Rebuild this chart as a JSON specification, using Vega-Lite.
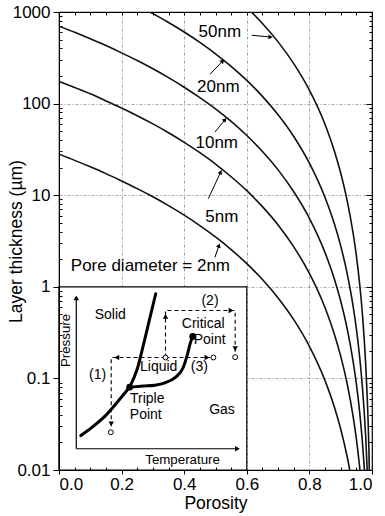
{
  "$schema": "https://vega.github.io/schema/vega-lite/v6.json",
  "width": 313,
  "height": 458,
  "autosize": {"type": "none"},
  "padding": {"left": 59, "top": 12, "right": 13, "bottom": 46},
  "background": "white",
  "config": {
    "view": {"stroke": "black", "strokeWidth": 1.2},
    "font": "Liberation Sans",
    "axis": {"tickColor": "black", "domainColor": "black", "labelColor": "black", "titleColor": "black", "titleFontWeight": "normal", "labelFont": "Liberation Sans", "titleFont": "Liberation Sans"}
  },
  "datasets": {
    "curves": [
      {"pore": "2nm", "p": 0, "t": 28}, {"pore": "2nm", "p": 0.05, "t": 24}, {"pore": "2nm", "p": 0.1, "t": 20.4}, {"pore": "2nm", "p": 0.15, "t": 17.2}, {"pore": "2nm", "p": 0.2, "t": 14.3}, {"pore": "2nm", "p": 0.25, "t": 11.8}, {"pore": "2nm", "p": 0.3, "t": 9.6}, {"pore": "2nm", "p": 0.35, "t": 7.69}, {"pore": "2nm", "p": 0.4, "t": 6.05}, {"pore": "2nm", "p": 0.45, "t": 4.66}, {"pore": "2nm", "p": 0.5, "t": 3.5}, {"pore": "2nm", "p": 0.55, "t": 2.55}, {"pore": "2nm", "p": 0.6, "t": 1.79}, {"pore": "2nm", "p": 0.65, "t": 1.2}, {"pore": "2nm", "p": 0.7, "t": 0.756}, {"pore": "2nm", "p": 0.75, "t": 0.438}, {"pore": "2nm", "p": 0.8, "t": 0.224}, {"pore": "2nm", "p": 0.85, "t": 0.0945}, {"pore": "2nm", "p": 0.88, "t": 0.0484}, {"pore": "2nm", "p": 0.9, "t": 0.028}, {"pore": "2nm", "p": 0.92, "t": 0.0143}, {"pore": "2nm", "p": 0.93, "t": 0.0096}, {"pore": "2nm", "p": 0.94, "t": 0.00605},
      {"pore": "5nm", "p": 0, "t": 175}, {"pore": "5nm", "p": 0.05, "t": 150}, {"pore": "5nm", "p": 0.1, "t": 128}, {"pore": "5nm", "p": 0.15, "t": 107}, {"pore": "5nm", "p": 0.2, "t": 89.6}, {"pore": "5nm", "p": 0.25, "t": 73.8}, {"pore": "5nm", "p": 0.3, "t": 60}, {"pore": "5nm", "p": 0.35, "t": 48.1}, {"pore": "5nm", "p": 0.4, "t": 37.8}, {"pore": "5nm", "p": 0.45, "t": 29.1}, {"pore": "5nm", "p": 0.5, "t": 21.9}, {"pore": "5nm", "p": 0.55, "t": 15.9}, {"pore": "5nm", "p": 0.6, "t": 11.2}, {"pore": "5nm", "p": 0.65, "t": 7.5}, {"pore": "5nm", "p": 0.7, "t": 4.73}, {"pore": "5nm", "p": 0.75, "t": 2.73}, {"pore": "5nm", "p": 0.8, "t": 1.4}, {"pore": "5nm", "p": 0.85, "t": 0.591}, {"pore": "5nm", "p": 0.88, "t": 0.302}, {"pore": "5nm", "p": 0.9, "t": 0.175}, {"pore": "5nm", "p": 0.92, "t": 0.0896}, {"pore": "5nm", "p": 0.94, "t": 0.0378}, {"pore": "5nm", "p": 0.95, "t": 0.0219}, {"pore": "5nm", "p": 0.96, "t": 0.0112}, {"pore": "5nm", "p": 0.97, "t": 0.00473},
      {"pore": "10nm", "p": 0, "t": 700}, {"pore": "10nm", "p": 0.05, "t": 600}, {"pore": "10nm", "p": 0.1, "t": 510}, {"pore": "10nm", "p": 0.15, "t": 430}, {"pore": "10nm", "p": 0.2, "t": 358}, {"pore": "10nm", "p": 0.25, "t": 295}, {"pore": "10nm", "p": 0.3, "t": 240}, {"pore": "10nm", "p": 0.35, "t": 192}, {"pore": "10nm", "p": 0.4, "t": 151}, {"pore": "10nm", "p": 0.45, "t": 116}, {"pore": "10nm", "p": 0.5, "t": 87.5}, {"pore": "10nm", "p": 0.55, "t": 63.8}, {"pore": "10nm", "p": 0.6, "t": 44.8}, {"pore": "10nm", "p": 0.65, "t": 30}, {"pore": "10nm", "p": 0.7, "t": 18.9}, {"pore": "10nm", "p": 0.75, "t": 10.9}, {"pore": "10nm", "p": 0.8, "t": 5.6}, {"pore": "10nm", "p": 0.85, "t": 2.36}, {"pore": "10nm", "p": 0.88, "t": 1.21}, {"pore": "10nm", "p": 0.9, "t": 0.7}, {"pore": "10nm", "p": 0.92, "t": 0.358}, {"pore": "10nm", "p": 0.94, "t": 0.151}, {"pore": "10nm", "p": 0.95, "t": 0.0875}, {"pore": "10nm", "p": 0.96, "t": 0.0448}, {"pore": "10nm", "p": 0.97, "t": 0.0189}, {"pore": "10nm", "p": 0.975, "t": 0.0109}, {"pore": "10nm", "p": 0.98, "t": 0.0056},
      {"pore": "20nm", "p": 0.2, "t": 1434}, {"pore": "20nm", "p": 0.25, "t": 1181}, {"pore": "20nm", "p": 0.3, "t": 960}, {"pore": "20nm", "p": 0.35, "t": 769}, {"pore": "20nm", "p": 0.4, "t": 605}, {"pore": "20nm", "p": 0.45, "t": 466}, {"pore": "20nm", "p": 0.5, "t": 350}, {"pore": "20nm", "p": 0.55, "t": 255}, {"pore": "20nm", "p": 0.6, "t": 179}, {"pore": "20nm", "p": 0.65, "t": 120}, {"pore": "20nm", "p": 0.7, "t": 75.6}, {"pore": "20nm", "p": 0.75, "t": 43.8}, {"pore": "20nm", "p": 0.8, "t": 22.4}, {"pore": "20nm", "p": 0.85, "t": 9.45}, {"pore": "20nm", "p": 0.88, "t": 4.84}, {"pore": "20nm", "p": 0.9, "t": 2.8}, {"pore": "20nm", "p": 0.92, "t": 1.43}, {"pore": "20nm", "p": 0.94, "t": 0.605}, {"pore": "20nm", "p": 0.95, "t": 0.35}, {"pore": "20nm", "p": 0.96, "t": 0.179}, {"pore": "20nm", "p": 0.97, "t": 0.0756}, {"pore": "20nm", "p": 0.975, "t": 0.0438}, {"pore": "20nm", "p": 0.98, "t": 0.0224}, {"pore": "20nm", "p": 0.985, "t": 0.00945},
      {"pore": "50nm", "p": 0.5, "t": 2188}, {"pore": "50nm", "p": 0.55, "t": 1595}, {"pore": "50nm", "p": 0.6, "t": 1120}, {"pore": "50nm", "p": 0.65, "t": 750}, {"pore": "50nm", "p": 0.7, "t": 472}, {"pore": "50nm", "p": 0.75, "t": 273}, {"pore": "50nm", "p": 0.8, "t": 140}, {"pore": "50nm", "p": 0.85, "t": 59.1}, {"pore": "50nm", "p": 0.88, "t": 30.2}, {"pore": "50nm", "p": 0.9, "t": 17.5}, {"pore": "50nm", "p": 0.92, "t": 8.96}, {"pore": "50nm", "p": 0.94, "t": 3.78}, {"pore": "50nm", "p": 0.95, "t": 2.19}, {"pore": "50nm", "p": 0.96, "t": 1.12}, {"pore": "50nm", "p": 0.97, "t": 0.473}, {"pore": "50nm", "p": 0.975, "t": 0.273}, {"pore": "50nm", "p": 0.98, "t": 0.14}, {"pore": "50nm", "p": 0.985, "t": 0.0591}, {"pore": "50nm", "p": 0.99, "t": 0.0175}, {"pore": "50nm", "p": 0.995, "t": 0.0022}
    ],
    "curveLabels": [
      {"text": "50nm", "p": 0.514, "t": 605},
      {"text": "20nm", "p": 0.509, "t": 151},
      {"text": "10nm", "p": 0.504, "t": 36.8},
      {"text": "5nm", "p": 0.52, "t": 5.82},
      {"text": "Pore diameter = 2nm", "p": 0.292, "t": 1.68}
    ],
    "arrows": [
      {"label": "50nm", "p1": 0.616, "t1": 557, "p2": 0.676, "t2": 533},
      {"label": "20nm", "p1": 0.4824, "t1": 209, "p2": 0.523, "t2": 292},
      {"label": "10nm", "p1": 0.4984, "t1": 48.9, "p2": 0.5304, "t2": 66.8},
      {"label": "5nm", "p1": 0.477, "t1": 9.17, "p2": 0.5166, "t2": 17.9},
      {"label": "2nm", "p1": 0.498, "t1": 2.09, "p2": 0.511, "t2": 2.83}
    ],
    "insetBox": [{"u0": 0, "u1": 100, "v0": 0, "v1": 100}],
    "insetAxes": [
      {"axis": "Pressure", "u1": 9.2, "v1": 11.6, "u2": 9.2, "v2": 94.5},
      {"axis": "Temperature", "u1": 9.2, "v1": 11.6, "u2": 95.5, "v2": 11.6}
    ],
    "phaseCurves": [
      {"curve": "sublimation", "i": 0, "u": 11.6, "v": 18.8}, {"curve": "sublimation", "i": 1, "u": 17.7, "v": 23.4}, {"curve": "sublimation", "i": 2, "u": 24.9, "v": 29.8}, {"curve": "sublimation", "i": 3, "u": 31.0, "v": 37.0}, {"curve": "sublimation", "i": 4, "u": 37.6, "v": 45.2},
      {"curve": "fusion", "i": 0, "u": 37.6, "v": 45.2}, {"curve": "fusion", "i": 1, "u": 41.7, "v": 55.3}, {"curve": "fusion", "i": 2, "u": 45.3, "v": 69.8}, {"curve": "fusion", "i": 3, "u": 48.3, "v": 82.6}, {"curve": "fusion", "i": 4, "u": 51.5, "v": 96.2},
      {"curve": "vaporization", "i": 0, "u": 37.6, "v": 45.2}, {"curve": "vaporization", "i": 1, "u": 45.0, "v": 45.8}, {"curve": "vaporization", "i": 2, "u": 51.1, "v": 46.3}, {"curve": "vaporization", "i": 3, "u": 56.4, "v": 47.6}, {"curve": "vaporization", "i": 4, "u": 61.8, "v": 50.4}, {"curve": "vaporization", "i": 5, "u": 66.2, "v": 56.1}, {"curve": "vaporization", "i": 6, "u": 68.5, "v": 63.5}, {"curve": "vaporization", "i": 7, "u": 69.8, "v": 68.9}, {"curve": "vaporization", "i": 8, "u": 71.2, "v": 72.9}
    ],
    "paths": [
      {"path": "1", "i": 0, "u": 56.7, "v": 61.4}, {"path": "1", "i": 1, "u": 27.8, "v": 61.4}, {"path": "1", "i": 2, "u": 27.8, "v": 23.5},
      {"path": "2", "i": 0, "u": 56.7, "v": 61.4}, {"path": "2", "i": 1, "u": 56.7, "v": 87.1}, {"path": "2", "i": 2, "u": 93.8, "v": 87.1}, {"path": "2", "i": 3, "u": 93.8, "v": 64.5},
      {"path": "3", "i": 0, "u": 56.7, "v": 61.4}, {"path": "3", "i": 1, "u": 80.5, "v": 61.4}
    ],
    "heads": [
      {"dir": "up", "u": 9.2, "v": 94.0},
      {"dir": "right", "u": 95.0, "v": 11.6},
      {"dir": "left", "u": 30.8, "v": 61.4},
      {"dir": "down", "u": 27.8, "v": 25.2},
      {"dir": "up", "u": 56.7, "v": 83.8},
      {"dir": "right", "u": 91.6, "v": 87.1},
      {"dir": "down", "u": 93.8, "v": 66.2},
      {"dir": "right", "u": 78.8, "v": 61.4}
    ],
    "states": [
      {"state": "start", "u": 56.7, "v": 61.4},
      {"state": "end 1", "u": 27.6, "v": 20.6},
      {"state": "end 2", "u": 93.8, "v": 61.6},
      {"state": "end 3", "u": 82.2, "v": 61.4}
    ],
    "points": [
      {"name": "Triple Point", "u": 37.6, "v": 45.2},
      {"name": "Critical Point", "u": 71.2, "v": 72.9}
    ],
    "insetLabels": [
      {"text": "Solid", "u": 27.3, "v": 84.8},
      {"text": "Liquid", "u": 53.1, "v": 56.1},
      {"text": "Gas", "u": 86.8, "v": 32.5},
      {"text": "(1)", "u": 20.6, "v": 52.0},
      {"text": "(2)", "u": 80.4, "v": 92.0},
      {"text": "(3)", "u": 74.7, "v": 56.1},
      {"text": "Critical", "u": 76.8, "v": 79.6},
      {"text": "Point", "u": 80.2, "v": 71.2},
      {"text": "Triple", "u": 47.0, "v": 38.6},
      {"text": "Point", "u": 46.2, "v": 30.2}
    ],
    "insetAxisTitles": [
      {"text": "Temperature", "u": 65.8, "v": 5.6}
    ],
    "insetAxisTitlesV": [
      {"text": "Pressure", "u": 3.9, "v": 70.7}
    ]
  },
  "layer": [
    {
      "layer": [
        {
          "data": {"name": "curves"},
          "mark": {"type": "line", "color": "#111", "strokeWidth": 1.6, "clip": true, "interpolate": "monotone"},
          "encoding": {
            "x": {"field": "p", "type": "quantitative", "scale": {"domain": [0, 1], "nice": false, "zero": false},
              "axis": {"orient": "bottom", "values": [0, 0.2, 0.4, 0.6, 0.8, 1], "format": ".1f", "tickSize": 4, "grid": false, "labelFontSize": 17, "labelPadding": 2, "title": "Porosity", "titleFontSize": 17.5, "titleX": 156.5, "titleY": 38, "titleBaseline": "alphabetic", "titleAlign": "center", "zindex": 1}},
            "y": {"field": "t", "type": "quantitative", "scale": {"type": "log", "domain": [0.01, 1000], "nice": false},
              "axis": {"orient": "left", "values": [0.01, 0.1, 1, 10, 100, 1000], "format": "~g", "tickSize": 6, "grid": false, "labelFontSize": 17, "labelPadding": 3, "title": "Layer thickness (µm)", "titleFontSize": 17.5, "titleX": -38, "titleY": 229, "titleAngle": 270, "titleAlign": "center", "titleBaseline": "alphabetic", "zindex": 1}},
            "detail": {"field": "pore", "type": "nominal"}
          }
        },
        {
          "data": {"name": "curveLabels"},
          "mark": {"type": "text", "fontSize": 17, "color": "black", "align": "center", "baseline": "middle"},
          "encoding": {
            "x": {"field": "p", "type": "quantitative",
              "axis": {"orient": "top", "values": [0, 0.05, 0.1, 0.15, 0.2, 0.25, 0.3, 0.35, 0.4, 0.45, 0.5, 0.55, 0.6, 0.65, 0.7, 0.75, 0.8, 0.85, 0.9, 0.95, 1], "tickSize": -3, "labels": false, "domain": false, "grid": false, "title": null, "zindex": 1}},
            "y": {"field": "t", "type": "quantitative",
              "axis": {"orient": "right", "values": [0.02, 0.03, 0.04, 0.05, 0.06, 0.07, 0.08, 0.09, 0.2, 0.3, 0.4, 0.5, 0.6, 0.7, 0.8, 0.9, 2, 3, 4, 5, 6, 7, 8, 9, 20, 30, 40, 50, 60, 70, 80, 90, 200, 300, 400, 500, 600, 700, 800, 900], "tickSize": -3, "labels": false, "domain": false, "grid": false, "title": null, "zindex": 1}},
            "text": {"field": "text", "type": "nominal"}
          }
        },
        {
          "data": {"name": "arrows"},
          "mark": {"type": "rule", "color": "black", "strokeWidth": 1},
          "encoding": {
            "x": {"field": "p1", "type": "quantitative",
              "axis": {"orient": "bottom", "values": [0.05, 0.1, 0.15, 0.25, 0.3, 0.35, 0.45, 0.5, 0.55, 0.65, 0.7, 0.75, 0.85, 0.9, 0.95], "tickSize": -3, "labels": false, "domain": false, "grid": false, "title": null, "zindex": 1}},
            "y": {"field": "t1", "type": "quantitative",
              "axis": {"orient": "left", "values": [0.02, 0.03, 0.04, 0.05, 0.06, 0.07, 0.08, 0.09, 0.2, 0.3, 0.4, 0.5, 0.6, 0.7, 0.8, 0.9, 2, 3, 4, 5, 6, 7, 8, 9, 20, 30, 40, 50, 60, 70, 80, 90, 200, 300, 400, 500, 600, 700, 800, 900], "tickSize": -3, "labels": false, "domain": false, "grid": false, "title": null, "zindex": 1}},
            "x2": {"field": "p2"},
            "y2": {"field": "t2"}
          }
        },
        {
          "data": {"name": "arrows"},
          "transform": [{"filter": "datum.label === '50nm'"}],
          "mark": {"type": "point", "shape": "triangle-up", "filled": true, "color": "black", "size": 24, "angle": 95, "opacity": 1},
          "encoding": {
            "x": {"field": "p2", "type": "quantitative",
              "axis": {"orient": "bottom", "values": [0.2, 0.4, 0.6, 0.8], "grid": true, "gridColor": "#888", "gridDash": [3, 2, 1, 2], "gridWidth": 0.8, "ticks": false, "labels": false, "domain": false, "title": null, "zindex": 0}},
            "y": {"field": "t2", "type": "quantitative",
              "axis": {"orient": "left", "values": [0.1, 1, 10, 100], "grid": true, "gridColor": "#888", "gridDash": [3, 2, 1, 2], "gridWidth": 0.8, "ticks": false, "labels": false, "domain": false, "title": null, "zindex": 0}}
          }
        },
        {
          "data": {"name": "arrows"},
          "transform": [{"filter": "datum.label === '20nm'"}],
          "mark": {"type": "point", "shape": "triangle-up", "filled": true, "color": "black", "size": 24, "angle": 44, "opacity": 1},
          "encoding": {
            "x": {"field": "p2", "type": "quantitative", "axis": null},
            "y": {"field": "t2", "type": "quantitative",
              "axis": {"orient": "right", "values": [0.01, 0.1, 1, 10, 100, 1000], "tickSize": -6, "labels": false, "domain": false, "grid": false, "title": null, "zindex": 1}}
          }
        },
        {
          "data": {"name": "arrows"},
          "transform": [{"filter": "datum.label === '10nm'"}],
          "mark": {"type": "point", "shape": "triangle-up", "filled": true, "color": "black", "size": 24, "angle": 39, "opacity": 1},
          "encoding": {
            "x": {"field": "p2", "type": "quantitative", "axis": null},
            "y": {"field": "t2", "type": "quantitative", "axis": null}
          }
        },
        {
          "data": {"name": "arrows"},
          "transform": [{"filter": "datum.label === '5nm'"}],
          "mark": {"type": "point", "shape": "triangle-up", "filled": true, "color": "black", "size": 24, "angle": 25, "opacity": 1},
          "encoding": {
            "x": {"field": "p2", "type": "quantitative", "axis": null},
            "y": {"field": "t2", "type": "quantitative", "axis": null}
          }
        },
        {
          "data": {"name": "arrows"},
          "transform": [{"filter": "datum.label === '2nm'"}],
          "mark": {"type": "point", "shape": "triangle-up", "filled": true, "color": "black", "size": 24, "angle": 18, "opacity": 1},
          "encoding": {
            "x": {"field": "p2", "type": "quantitative", "axis": null},
            "y": {"field": "t2", "type": "quantitative", "axis": null}
          }
        }
      ],
      "resolve": {"axis": {"x": "independent", "y": "independent"}}
    },
    {
      "layer": [
        {
          "data": {"name": "insetBox"},
          "mark": {"type": "rect", "fill": "white", "stroke": "black", "strokeWidth": 1.2},
          "encoding": {
            "x": {"field": "u0", "type": "quantitative", "scale": {"domain": [0, 166.667], "nice": false, "zero": false}, "axis": null},
            "x2": {"field": "u1"},
            "y": {"field": "v0", "type": "quantitative", "scale": {"domain": [0, 250], "nice": false, "zero": false}, "axis": null},
            "y2": {"field": "v1"}
          }
        },
        {
          "data": {"name": "insetAxes"},
          "mark": {"type": "rule", "color": "black", "strokeWidth": 1.2},
          "encoding": {
            "x": {"field": "u1", "type": "quantitative", "axis": null},
            "y": {"field": "v1", "type": "quantitative", "axis": null},
            "x2": {"field": "u2"},
            "y2": {"field": "v2"}
          }
        },
        {
          "data": {"name": "phaseCurves"},
          "mark": {"type": "line", "color": "black", "strokeWidth": 3, "interpolate": "monotone", "strokeCap": "round"},
          "encoding": {
            "x": {"field": "u", "type": "quantitative", "axis": null},
            "y": {"field": "v", "type": "quantitative", "axis": null},
            "detail": {"field": "curve", "type": "nominal"},
            "order": {"field": "i", "type": "quantitative"}
          }
        },
        {
          "data": {"name": "paths"},
          "mark": {"type": "line", "color": "black", "strokeWidth": 1.1, "strokeDash": [4, 3]},
          "encoding": {
            "x": {"field": "u", "type": "quantitative", "axis": null},
            "y": {"field": "v", "type": "quantitative", "axis": null},
            "detail": {"field": "path", "type": "nominal"},
            "order": {"field": "i", "type": "quantitative"}
          }
        },
        {
          "data": {"name": "heads"},
          "mark": {"type": "point", "filled": true, "color": "black", "size": 30, "opacity": 1},
          "encoding": {
            "x": {"field": "u", "type": "quantitative", "axis": null},
            "y": {"field": "v", "type": "quantitative", "axis": null},
            "shape": {"field": "dir", "type": "nominal", "scale": {"domain": ["up", "down", "left", "right"], "range": ["triangle-up", "triangle-down", "triangle-left", "triangle-right"]}, "legend": null}
          }
        },
        {
          "data": {"name": "states"},
          "mark": {"type": "point", "shape": "circle", "filled": true, "fill": "white", "stroke": "black", "strokeWidth": 1, "size": 24, "opacity": 1},
          "encoding": {
            "x": {"field": "u", "type": "quantitative", "axis": null},
            "y": {"field": "v", "type": "quantitative", "axis": null}
          }
        },
        {
          "data": {"name": "points"},
          "mark": {"type": "point", "shape": "circle", "filled": true, "color": "black", "size": 45, "opacity": 1},
          "encoding": {
            "x": {"field": "u", "type": "quantitative", "axis": null},
            "y": {"field": "v", "type": "quantitative", "axis": null}
          }
        },
        {
          "data": {"name": "insetLabels"},
          "mark": {"type": "text", "fontSize": 14, "color": "black", "align": "center", "baseline": "middle"},
          "encoding": {
            "x": {"field": "u", "type": "quantitative", "axis": null},
            "y": {"field": "v", "type": "quantitative", "axis": null},
            "text": {"field": "text", "type": "nominal"}
          }
        },
        {
          "data": {"name": "insetAxisTitles"},
          "mark": {"type": "text", "fontSize": 13.3, "color": "black", "align": "center", "baseline": "middle"},
          "encoding": {
            "x": {"field": "u", "type": "quantitative", "axis": null},
            "y": {"field": "v", "type": "quantitative", "axis": null},
            "text": {"field": "text", "type": "nominal"}
          }
        },
        {
          "data": {"name": "insetAxisTitlesV"},
          "mark": {"type": "text", "fontSize": 13.3, "color": "black", "align": "center", "baseline": "middle", "angle": 270},
          "encoding": {
            "x": {"field": "u", "type": "quantitative", "axis": null},
            "y": {"field": "v", "type": "quantitative", "axis": null},
            "text": {"field": "text", "type": "nominal"}
          }
        }
      ]
    }
  ],
  "resolve": {"scale": {"x": "independent", "y": "independent"}, "axis": {"x": "independent", "y": "independent"}}
}
